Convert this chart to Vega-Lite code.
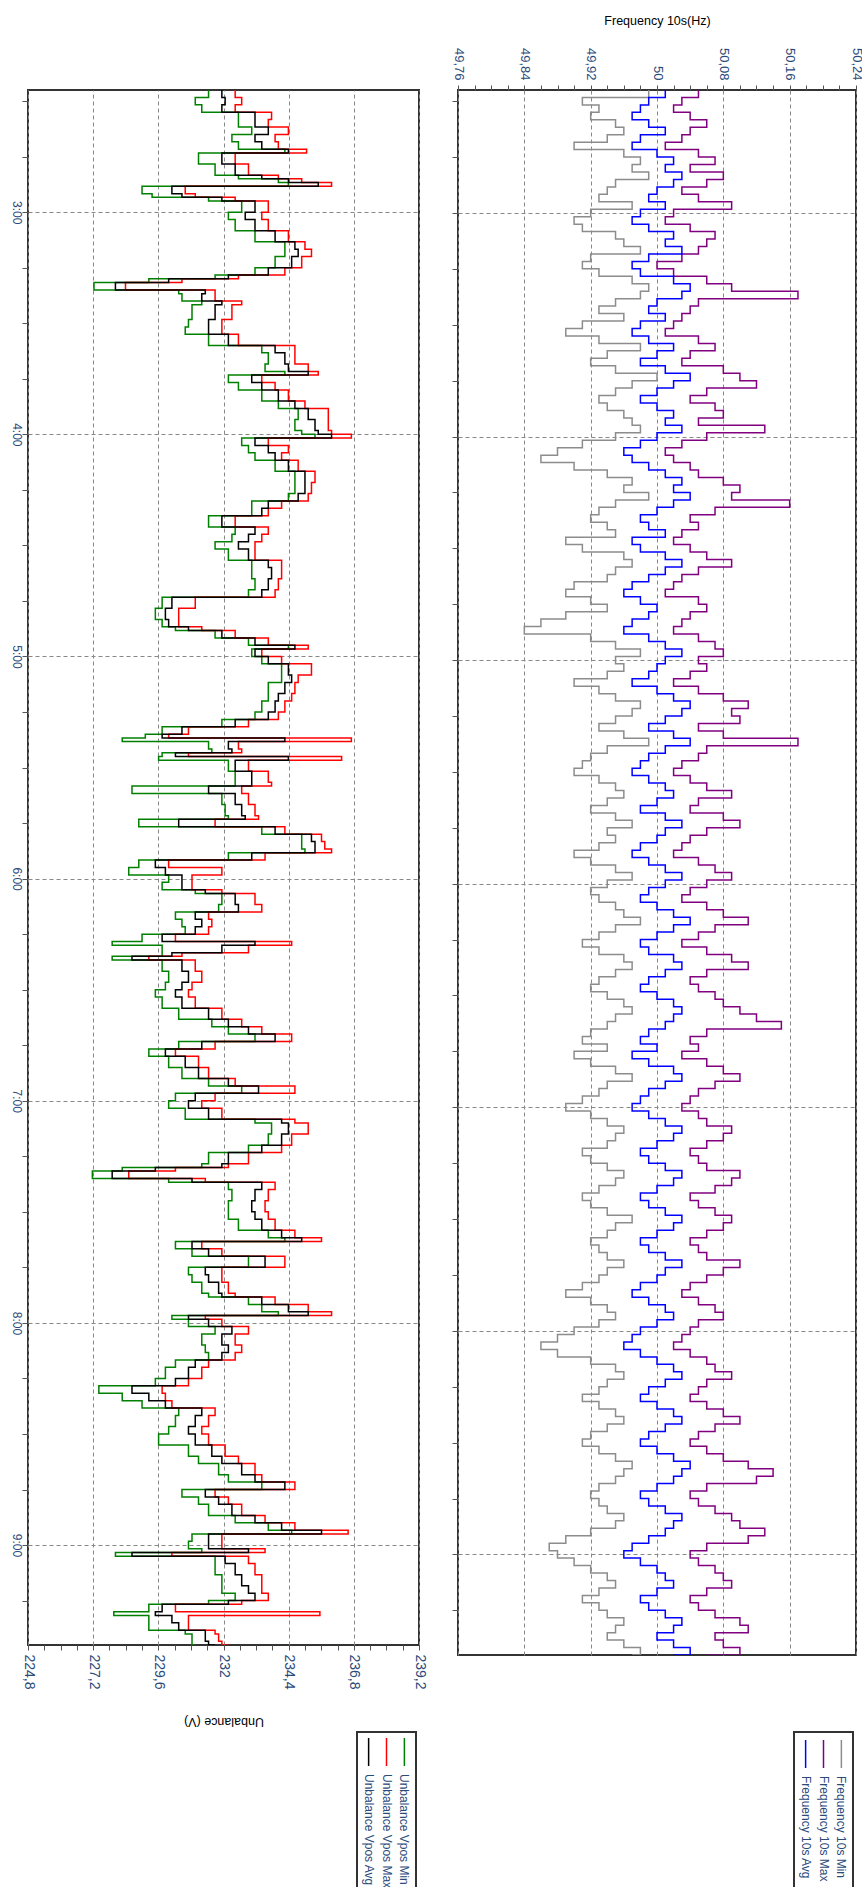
{
  "$schema": "https://vega.github.io/schema/vega-lite/v6.json",
  "padding": {"left": 8, "top": 13, "right": 2, "bottom": 0},
  "background": "white",
  "datasets": {
    "unb": [
      {"minute": 147, "min": 231.45, "max": 232.43, "avg": 231.94},
      {"minute": 149, "min": 230.96, "max": 232.67, "avg": 232.06},
      {"minute": 151, "min": 231.20, "max": 232.43, "avg": 231.94},
      {"minute": 153, "min": 232.55, "max": 233.77, "avg": 233.16},
      {"minute": 155, "min": 232.55, "max": 233.65, "avg": 233.16},
      {"minute": 157, "min": 233.04, "max": 234.39, "avg": 233.65},
      {"minute": 159, "min": 232.31, "max": 233.90, "avg": 233.16},
      {"minute": 161, "min": 232.55, "max": 234.02, "avg": 233.41},
      {"minute": 163, "min": 234.26, "max": 235.06, "avg": 234.39},
      {"minute": 164, "min": 231.08, "max": 232.43, "avg": 231.94},
      {"minute": 167, "min": 231.69, "max": 232.92, "avg": 232.43},
      {"minute": 170, "min": 232.55, "max": 234.02, "avg": 233.41},
      {"minute": 171, "min": 234.02, "max": 234.88, "avg": 234.39},
      {"minute": 172, "min": 234.39, "max": 235.98, "avg": 235.49},
      {"minute": 173, "min": 229.00, "max": 230.59, "avg": 230.10},
      {"minute": 175, "min": 229.37, "max": 230.96, "avg": 230.47},
      {"minute": 176, "min": 231.45, "max": 232.43, "avg": 231.94},
      {"minute": 177, "min": 232.67, "max": 233.65, "avg": 233.16},
      {"minute": 180, "min": 232.18, "max": 233.41, "avg": 232.80},
      {"minute": 182, "min": 232.43, "max": 233.65, "avg": 233.16},
      {"minute": 185, "min": 233.16, "max": 234.39, "avg": 233.90},
      {"minute": 188, "min": 234.26, "max": 235.00, "avg": 234.63},
      {"minute": 190, "min": 234.26, "max": 235.24, "avg": 234.75},
      {"minute": 192, "min": 233.90, "max": 234.88, "avg": 234.51},
      {"minute": 195, "min": 233.16, "max": 234.26, "avg": 233.65},
      {"minute": 197, "min": 231.69, "max": 232.55, "avg": 232.18},
      {"minute": 198, "min": 229.25, "max": 230.47, "avg": 229.98},
      {"minute": 199, "min": 227.23, "max": 228.39, "avg": 228.02},
      {"minute": 201, "min": 230.35, "max": 231.69, "avg": 231.33},
      {"minute": 202, "min": 230.47, "max": 231.69, "avg": 231.20},
      {"minute": 204, "min": 231.20, "max": 232.67, "avg": 231.94},
      {"minute": 205, "min": 230.84, "max": 232.31, "avg": 231.69},
      {"minute": 209, "min": 230.71, "max": 231.94, "avg": 231.45},
      {"minute": 211, "min": 230.59, "max": 231.94, "avg": 231.45},
      {"minute": 213, "min": 231.45, "max": 232.55, "avg": 232.18},
      {"minute": 216, "min": 233.41, "max": 234.63, "avg": 233.90},
      {"minute": 218, "min": 233.65, "max": 234.63, "avg": 234.26},
      {"minute": 221, "min": 233.53, "max": 235.12, "avg": 234.39},
      {"minute": 223, "min": 234.26, "max": 235.49, "avg": 235.12},
      {"minute": 224, "min": 232.18, "max": 233.41, "avg": 233.04},
      {"minute": 226, "min": 232.55, "max": 233.90, "avg": 233.41},
      {"minute": 228, "min": 233.41, "max": 234.39, "avg": 234.02},
      {"minute": 231, "min": 234.02, "max": 235.00, "avg": 234.63},
      {"minute": 233, "min": 234.75, "max": 235.86, "avg": 235.12},
      {"minute": 236, "min": 234.63, "max": 235.86, "avg": 235.37},
      {"minute": 239, "min": 234.88, "max": 235.98, "avg": 235.49},
      {"minute": 240, "min": 235.37, "max": 236.71, "avg": 235.98},
      {"minute": 241, "min": 232.67, "max": 233.65, "avg": 233.16},
      {"minute": 243, "min": 232.92, "max": 234.39, "avg": 233.65},
      {"minute": 245, "min": 233.16, "max": 234.14, "avg": 233.90},
      {"minute": 247, "min": 233.90, "max": 234.75, "avg": 234.39},
      {"minute": 250, "min": 234.63, "max": 235.37, "avg": 235.00},
      {"minute": 253, "min": 234.63, "max": 235.24, "avg": 235.00},
      {"minute": 256, "min": 234.39, "max": 235.12, "avg": 234.75},
      {"minute": 258, "min": 233.04, "max": 234.14, "avg": 233.65},
      {"minute": 260, "min": 233.04, "max": 233.65, "avg": 233.41},
      {"minute": 262, "min": 231.45, "max": 232.43, "avg": 231.94},
      {"minute": 265, "min": 232.43, "max": 233.65, "avg": 233.16},
      {"minute": 267, "min": 232.31, "max": 233.41, "avg": 232.92},
      {"minute": 269, "min": 231.69, "max": 233.16, "avg": 232.55},
      {"minute": 271, "min": 232.18, "max": 233.16, "avg": 232.92},
      {"minute": 274, "min": 233.04, "max": 234.14, "avg": 233.65},
      {"minute": 276, "min": 233.04, "max": 234.14, "avg": 233.77},
      {"minute": 279, "min": 233.16, "max": 234.02, "avg": 233.65},
      {"minute": 282, "min": 232.92, "max": 233.90, "avg": 233.41},
      {"minute": 284, "min": 229.74, "max": 230.96, "avg": 230.10},
      {"minute": 287, "min": 229.49, "max": 230.35, "avg": 229.86},
      {"minute": 290, "min": 229.74, "max": 230.35, "avg": 229.98},
      {"minute": 292, "min": 230.23, "max": 231.20, "avg": 230.71},
      {"minute": 293, "min": 231.69, "max": 232.43, "avg": 231.94},
      {"minute": 295, "min": 232.92, "max": 233.65, "avg": 233.16},
      {"minute": 297, "min": 234.39, "max": 235.12, "avg": 234.63},
      {"minute": 298, "min": 233.04, "max": 233.41, "avg": 233.16},
      {"minute": 300, "min": 233.41, "max": 234.14, "avg": 233.65},
      {"minute": 302, "min": 234.14, "max": 235.24, "avg": 234.39},
      {"minute": 305, "min": 234.14, "max": 234.75, "avg": 234.51},
      {"minute": 307, "min": 233.65, "max": 234.63, "avg": 234.26},
      {"minute": 310, "min": 233.65, "max": 234.51, "avg": 234.02},
      {"minute": 312, "min": 233.41, "max": 234.26, "avg": 233.90},
      {"minute": 315, "min": 233.16, "max": 234.02, "avg": 233.65},
      {"minute": 317, "min": 231.94, "max": 232.92, "avg": 232.43},
      {"minute": 319, "min": 229.74, "max": 230.71, "avg": 230.47},
      {"minute": 321, "min": 229.12, "max": 229.98, "avg": 229.74},
      {"minute": 322, "min": 228.27, "max": 236.71, "avg": 234.26},
      {"minute": 323, "min": 231.45, "max": 232.55, "avg": 232.18},
      {"minute": 325, "min": 231.57, "max": 232.67, "avg": 232.31},
      {"minute": 326, "min": 229.74, "max": 230.71, "avg": 230.23},
      {"minute": 327, "min": 229.61, "max": 236.35, "avg": 234.39},
      {"minute": 328, "min": 232.18, "max": 232.92, "avg": 232.43},
      {"minute": 331, "min": 232.43, "max": 233.65, "avg": 233.04},
      {"minute": 334, "min": 232.43, "max": 233.77, "avg": 233.04},
      {"minute": 335, "min": 228.63, "max": 232.67, "avg": 231.45},
      {"minute": 337, "min": 231.94, "max": 232.92, "avg": 232.43},
      {"minute": 340, "min": 232.06, "max": 233.16, "avg": 232.67},
      {"minute": 343, "min": 232.18, "max": 233.29, "avg": 232.80},
      {"minute": 344, "min": 228.88, "max": 231.69, "avg": 230.35},
      {"minute": 346, "min": 233.41, "max": 234.26, "avg": 233.90},
      {"minute": 348, "min": 234.88, "max": 235.61, "avg": 235.24},
      {"minute": 350, "min": 234.88, "max": 235.73, "avg": 235.37},
      {"minute": 352, "min": 235.00, "max": 235.98, "avg": 235.37},
      {"minute": 353, "min": 232.18, "max": 233.53, "avg": 233.04},
      {"minute": 355, "min": 228.88, "max": 229.98, "avg": 229.49},
      {"minute": 357, "min": 228.51, "max": 231.94, "avg": 229.86},
      {"minute": 359, "min": 229.98, "max": 230.84, "avg": 230.47},
      {"minute": 361, "min": 229.74, "max": 230.84, "avg": 230.47},
      {"minute": 363, "min": 230.96, "max": 231.94, "avg": 231.33},
      {"minute": 364, "min": 231.94, "max": 233.16, "avg": 232.43},
      {"minute": 367, "min": 231.82, "max": 233.41, "avg": 232.55},
      {"minute": 369, "min": 230.23, "max": 231.45, "avg": 230.96},
      {"minute": 371, "min": 230.47, "max": 231.57, "avg": 231.20},
      {"minute": 373, "min": 230.59, "max": 231.45, "avg": 230.96},
      {"minute": 375, "min": 229.00, "max": 230.23, "avg": 229.74},
      {"minute": 377, "min": 227.90, "max": 234.51, "avg": 233.16},
      {"minute": 378, "min": 229.74, "max": 232.92, "avg": 231.94},
      {"minute": 380, "min": 229.74, "max": 230.47, "avg": 230.10},
      {"minute": 381, "min": 227.90, "max": 229.25, "avg": 228.63},
      {"minute": 382, "min": 229.74, "max": 230.96, "avg": 230.47},
      {"minute": 385, "min": 229.98, "max": 231.20, "avg": 230.71},
      {"minute": 388, "min": 229.86, "max": 230.84, "avg": 230.47},
      {"minute": 390, "min": 229.49, "max": 230.71, "avg": 230.23},
      {"minute": 392, "min": 229.74, "max": 230.96, "avg": 230.47},
      {"minute": 395, "min": 230.35, "max": 231.94, "avg": 231.45},
      {"minute": 398, "min": 231.57, "max": 232.67, "avg": 232.18},
      {"minute": 400, "min": 232.18, "max": 233.41, "avg": 232.92},
      {"minute": 402, "min": 233.16, "max": 234.51, "avg": 233.90},
      {"minute": 404, "min": 230.35, "max": 231.69, "avg": 231.20},
      {"minute": 406, "min": 229.25, "max": 230.23, "avg": 229.86},
      {"minute": 408, "min": 229.98, "max": 231.08, "avg": 230.59},
      {"minute": 411, "min": 230.47, "max": 231.45, "avg": 231.08},
      {"minute": 414, "min": 231.45, "max": 232.43, "avg": 232.18},
      {"minute": 416, "min": 232.67, "max": 234.63, "avg": 233.29},
      {"minute": 418, "min": 230.23, "max": 231.69, "avg": 230.96},
      {"minute": 420, "min": 229.98, "max": 231.20, "avg": 230.71},
      {"minute": 422, "min": 230.59, "max": 231.94, "avg": 231.45},
      {"minute": 425, "min": 233.16, "max": 234.63, "avg": 234.14},
      {"minute": 426, "min": 233.77, "max": 235.12, "avg": 234.39},
      {"minute": 429, "min": 233.65, "max": 234.51, "avg": 234.14},
      {"minute": 432, "min": 232.92, "max": 234.14, "avg": 233.41},
      {"minute": 434, "min": 231.45, "max": 232.92, "avg": 232.18},
      {"minute": 437, "min": 231.20, "max": 232.18, "avg": 231.94},
      {"minute": 438, "min": 228.27, "max": 230.23, "avg": 229.49},
      {"minute": 439, "min": 227.17, "max": 228.51, "avg": 227.90},
      {"minute": 441, "min": 229.98, "max": 231.33, "avg": 230.84},
      {"minute": 442, "min": 232.18, "max": 233.90, "avg": 233.41},
      {"minute": 444, "min": 232.31, "max": 233.65, "avg": 233.16},
      {"minute": 447, "min": 232.18, "max": 233.53, "avg": 233.04},
      {"minute": 450, "min": 232.18, "max": 233.65, "avg": 233.16},
      {"minute": 452, "min": 232.55, "max": 233.90, "avg": 233.41},
      {"minute": 455, "min": 233.65, "max": 234.63, "avg": 234.14},
      {"minute": 457, "min": 234.26, "max": 235.61, "avg": 234.88},
      {"minute": 458, "min": 230.23, "max": 231.20, "avg": 230.84},
      {"minute": 460, "min": 230.84, "max": 231.94, "avg": 231.45},
      {"minute": 462, "min": 232.92, "max": 234.26, "avg": 233.53},
      {"minute": 465, "min": 230.71, "max": 231.94, "avg": 231.33},
      {"minute": 467, "min": 230.84, "max": 231.94, "avg": 231.45},
      {"minute": 469, "min": 231.20, "max": 232.18, "avg": 231.82},
      {"minute": 472, "min": 231.45, "max": 232.43, "avg": 231.94},
      {"minute": 473, "min": 232.92, "max": 233.90, "avg": 233.41},
      {"minute": 475, "min": 233.41, "max": 235.12, "avg": 234.39},
      {"minute": 477, "min": 234.02, "max": 235.98, "avg": 235.12},
      {"minute": 478, "min": 230.10, "max": 231.33, "avg": 230.71},
      {"minute": 479, "min": 230.71, "max": 231.94, "avg": 231.45},
      {"minute": 481, "min": 231.69, "max": 232.92, "avg": 232.31},
      {"minute": 483, "min": 231.20, "max": 232.43, "avg": 231.94},
      {"minute": 486, "min": 231.33, "max": 232.67, "avg": 232.18},
      {"minute": 488, "min": 231.45, "max": 232.43, "avg": 231.94},
      {"minute": 490, "min": 230.23, "max": 231.45, "avg": 230.96},
      {"minute": 492, "min": 229.86, "max": 231.20, "avg": 230.71},
      {"minute": 495, "min": 229.49, "max": 230.71, "avg": 230.23},
      {"minute": 497, "min": 227.41, "max": 229.74, "avg": 228.63},
      {"minute": 499, "min": 228.27, "max": 229.86, "avg": 229.25},
      {"minute": 501, "min": 229.00, "max": 230.10, "avg": 229.86},
      {"minute": 503, "min": 230.35, "max": 231.69, "avg": 231.20},
      {"minute": 505, "min": 230.23, "max": 231.45, "avg": 230.96},
      {"minute": 508, "min": 229.98, "max": 231.20, "avg": 230.71},
      {"minute": 510, "min": 229.61, "max": 231.45, "avg": 230.96},
      {"minute": 513, "min": 230.71, "max": 232.06, "avg": 231.57},
      {"minute": 516, "min": 231.08, "max": 232.55, "avg": 231.94},
      {"minute": 518, "min": 231.82, "max": 233.16, "avg": 232.67},
      {"minute": 521, "min": 232.18, "max": 233.41, "avg": 233.16},
      {"minute": 523, "min": 233.41, "max": 234.63, "avg": 234.26},
      {"minute": 525, "min": 230.47, "max": 231.69, "avg": 231.33},
      {"minute": 527, "min": 231.08, "max": 232.18, "avg": 231.82},
      {"minute": 529, "min": 231.45, "max": 232.67, "avg": 232.31},
      {"minute": 532, "min": 232.43, "max": 233.53, "avg": 233.16},
      {"minute": 534, "min": 233.65, "max": 234.63, "avg": 234.14},
      {"minute": 536, "min": 234.51, "max": 236.59, "avg": 235.61},
      {"minute": 537, "min": 230.84, "max": 231.94, "avg": 231.45},
      {"minute": 539, "min": 230.71, "max": 231.94, "avg": 231.45},
      {"minute": 541, "min": 231.20, "max": 233.53, "avg": 232.92},
      {"minute": 542, "min": 228.02, "max": 230.10, "avg": 228.63},
      {"minute": 543, "min": 231.69, "max": 232.92, "avg": 232.06},
      {"minute": 545, "min": 231.69, "max": 233.16, "avg": 232.43},
      {"minute": 548, "min": 231.94, "max": 233.41, "avg": 232.67},
      {"minute": 551, "min": 231.94, "max": 233.41, "avg": 232.92},
      {"minute": 553, "min": 232.43, "max": 233.65, "avg": 233.16},
      {"minute": 555, "min": 231.45, "max": 232.67, "avg": 232.18},
      {"minute": 556, "min": 229.25, "max": 230.23, "avg": 229.74},
      {"minute": 558, "min": 227.96, "max": 235.55, "avg": 229.49},
      {"minute": 559, "min": 229.25, "max": 230.71, "avg": 230.10},
      {"minute": 561, "min": 229.25, "max": 230.71, "avg": 230.35},
      {"minute": 563, "min": 230.59, "max": 231.69, "avg": 231.33},
      {"minute": 564, "min": 230.84, "max": 231.82, "avg": 231.33},
      {"minute": 566, "min": 230.84, "max": 231.94, "avg": 231.45},
      {"minute": 567, "min": 230.96, "max": 232.18, "avg": 231.69}
    ],
    "freq": [
      {"minute": 147, "min": 49.99, "max": 50.05, "avg": 50.01},
      {"minute": 149, "min": 49.91, "max": 50.03, "avg": 49.99},
      {"minute": 151, "min": 49.93, "max": 50.02, "avg": 49.98},
      {"minute": 153, "min": 49.92, "max": 50.04, "avg": 49.97},
      {"minute": 155, "min": 49.95, "max": 50.06, "avg": 49.99},
      {"minute": 157, "min": 49.96, "max": 50.04, "avg": 50.01},
      {"minute": 159, "min": 49.94, "max": 50.03, "avg": 49.98},
      {"minute": 161, "min": 49.90, "max": 50.01, "avg": 49.97},
      {"minute": 163, "min": 49.96, "max": 50.05, "avg": 50.00},
      {"minute": 165, "min": 49.98, "max": 50.07, "avg": 50.02},
      {"minute": 167, "min": 49.97, "max": 50.04, "avg": 50.01},
      {"minute": 169, "min": 49.99, "max": 50.08, "avg": 50.03},
      {"minute": 171, "min": 49.95, "max": 50.06, "avg": 50.02},
      {"minute": 173, "min": 49.94, "max": 50.03, "avg": 50.00},
      {"minute": 175, "min": 49.93, "max": 50.05, "avg": 49.99},
      {"minute": 177, "min": 49.97, "max": 50.09, "avg": 50.01},
      {"minute": 179, "min": 49.92, "max": 50.02, "avg": 49.98},
      {"minute": 181, "min": 49.90, "max": 50.01, "avg": 49.97},
      {"minute": 183, "min": 49.91, "max": 50.04, "avg": 49.99},
      {"minute": 185, "min": 49.95, "max": 50.07, "avg": 50.02},
      {"minute": 187, "min": 49.96, "max": 50.06, "avg": 50.01},
      {"minute": 189, "min": 49.98, "max": 50.05, "avg": 50.03},
      {"minute": 191, "min": 49.92, "max": 50.03, "avg": 49.99},
      {"minute": 193, "min": 49.91, "max": 50.00, "avg": 49.97},
      {"minute": 195, "min": 49.93, "max": 50.02, "avg": 49.98},
      {"minute": 197, "min": 49.97, "max": 50.06, "avg": 50.02},
      {"minute": 199, "min": 49.99, "max": 50.09, "avg": 50.04},
      {"minute": 201, "min": 49.98, "max": 50.17, "avg": 50.03},
      {"minute": 203, "min": 49.95, "max": 50.05, "avg": 50.00},
      {"minute": 205, "min": 49.93, "max": 50.04, "avg": 49.99},
      {"minute": 207, "min": 49.96, "max": 50.03, "avg": 50.01},
      {"minute": 209, "min": 49.91, "max": 50.02, "avg": 49.98},
      {"minute": 211, "min": 49.89, "max": 50.01, "avg": 49.97},
      {"minute": 213, "min": 49.93, "max": 50.05, "avg": 49.99},
      {"minute": 215, "min": 49.98, "max": 50.07, "avg": 50.02},
      {"minute": 217, "min": 49.94, "max": 50.04, "avg": 50.00},
      {"minute": 219, "min": 49.92, "max": 50.03, "avg": 49.98},
      {"minute": 221, "min": 49.95, "max": 50.08, "avg": 50.01},
      {"minute": 223, "min": 50.00, "max": 50.10, "avg": 50.04},
      {"minute": 225, "min": 49.97, "max": 50.12, "avg": 50.02},
      {"minute": 227, "min": 49.95, "max": 50.06, "avg": 50.00},
      {"minute": 229, "min": 49.93, "max": 50.04, "avg": 49.98},
      {"minute": 231, "min": 49.94, "max": 50.07, "avg": 50.00},
      {"minute": 233, "min": 49.96, "max": 50.08, "avg": 50.02},
      {"minute": 235, "min": 49.97, "max": 50.05, "avg": 50.01},
      {"minute": 237, "min": 49.98, "max": 50.13, "avg": 50.03},
      {"minute": 239, "min": 49.95, "max": 50.06, "avg": 50.00},
      {"minute": 241, "min": 49.91, "max": 50.03, "avg": 49.98},
      {"minute": 243, "min": 49.88, "max": 50.01, "avg": 49.96},
      {"minute": 245, "min": 49.86, "max": 50.02, "avg": 49.97},
      {"minute": 247, "min": 49.90, "max": 50.04, "avg": 49.99},
      {"minute": 249, "min": 49.94, "max": 50.05, "avg": 50.01},
      {"minute": 251, "min": 49.97, "max": 50.08, "avg": 50.03},
      {"minute": 253, "min": 49.96, "max": 50.10, "avg": 50.02},
      {"minute": 255, "min": 49.99, "max": 50.09, "avg": 50.04},
      {"minute": 257, "min": 49.95, "max": 50.16, "avg": 50.02},
      {"minute": 259, "min": 49.93, "max": 50.07, "avg": 50.00},
      {"minute": 261, "min": 49.92, "max": 50.04, "avg": 49.98},
      {"minute": 263, "min": 49.94, "max": 50.05, "avg": 49.99},
      {"minute": 265, "min": 49.95, "max": 50.03, "avg": 50.01},
      {"minute": 267, "min": 49.89, "max": 50.02, "avg": 49.97},
      {"minute": 269, "min": 49.91, "max": 50.04, "avg": 49.98},
      {"minute": 271, "min": 49.96, "max": 50.06, "avg": 50.01},
      {"minute": 273, "min": 49.97, "max": 50.09, "avg": 50.03},
      {"minute": 275, "min": 49.95, "max": 50.05, "avg": 50.01},
      {"minute": 277, "min": 49.94, "max": 50.03, "avg": 49.99},
      {"minute": 279, "min": 49.90, "max": 50.02, "avg": 49.97},
      {"minute": 281, "min": 49.89, "max": 50.01, "avg": 49.96},
      {"minute": 283, "min": 49.92, "max": 50.05, "avg": 49.98},
      {"minute": 285, "min": 49.94, "max": 50.06, "avg": 50.00},
      {"minute": 287, "min": 49.89, "max": 50.04, "avg": 49.99},
      {"minute": 289, "min": 49.86, "max": 50.03, "avg": 49.97},
      {"minute": 291, "min": 49.84, "max": 50.02, "avg": 49.96},
      {"minute": 293, "min": 49.92, "max": 50.05, "avg": 49.99},
      {"minute": 295, "min": 49.95, "max": 50.07, "avg": 50.01},
      {"minute": 297, "min": 49.98, "max": 50.08, "avg": 50.03},
      {"minute": 299, "min": 49.95, "max": 50.05, "avg": 50.01},
      {"minute": 301, "min": 49.96, "max": 50.06, "avg": 50.00},
      {"minute": 303, "min": 49.94, "max": 50.04, "avg": 49.99},
      {"minute": 305, "min": 49.90, "max": 50.02, "avg": 49.97},
      {"minute": 307, "min": 49.93, "max": 50.05, "avg": 50.00},
      {"minute": 309, "min": 49.95, "max": 50.08, "avg": 50.02},
      {"minute": 311, "min": 49.98, "max": 50.11, "avg": 50.04},
      {"minute": 313, "min": 49.97, "max": 50.09, "avg": 50.03},
      {"minute": 315, "min": 49.95, "max": 50.10, "avg": 50.01},
      {"minute": 317, "min": 49.93, "max": 50.05, "avg": 49.99},
      {"minute": 319, "min": 49.96, "max": 50.08, "avg": 50.02},
      {"minute": 321, "min": 49.99, "max": 50.17, "avg": 50.04},
      {"minute": 323, "min": 49.94, "max": 50.06, "avg": 50.01},
      {"minute": 325, "min": 49.92, "max": 50.05, "avg": 49.99},
      {"minute": 327, "min": 49.91, "max": 50.03, "avg": 49.98},
      {"minute": 329, "min": 49.90, "max": 50.02, "avg": 49.97},
      {"minute": 331, "min": 49.93, "max": 50.04, "avg": 49.99},
      {"minute": 333, "min": 49.95, "max": 50.06, "avg": 50.01},
      {"minute": 335, "min": 49.96, "max": 50.09, "avg": 50.02},
      {"minute": 337, "min": 49.94, "max": 50.05, "avg": 50.00},
      {"minute": 339, "min": 49.92, "max": 50.04, "avg": 49.98},
      {"minute": 341, "min": 49.95, "max": 50.08, "avg": 50.01},
      {"minute": 343, "min": 49.97, "max": 50.10, "avg": 50.03},
      {"minute": 345, "min": 49.94, "max": 50.06, "avg": 50.01},
      {"minute": 347, "min": 49.95, "max": 50.04, "avg": 50.00},
      {"minute": 349, "min": 49.93, "max": 50.03, "avg": 49.98},
      {"minute": 351, "min": 49.90, "max": 50.02, "avg": 49.97},
      {"minute": 353, "min": 49.92, "max": 50.05, "avg": 49.99},
      {"minute": 355, "min": 49.95, "max": 50.07, "avg": 50.01},
      {"minute": 357, "min": 49.97, "max": 50.09, "avg": 50.03},
      {"minute": 359, "min": 49.94, "max": 50.06, "avg": 50.01},
      {"minute": 361, "min": 49.92, "max": 50.04, "avg": 49.99},
      {"minute": 363, "min": 49.93, "max": 50.03, "avg": 49.98},
      {"minute": 365, "min": 49.95, "max": 50.06, "avg": 50.00},
      {"minute": 367, "min": 49.96, "max": 50.08, "avg": 50.02},
      {"minute": 369, "min": 49.98, "max": 50.11, "avg": 50.04},
      {"minute": 371, "min": 49.95, "max": 50.07, "avg": 50.02},
      {"minute": 373, "min": 49.93, "max": 50.05, "avg": 50.00},
      {"minute": 375, "min": 49.91, "max": 50.03, "avg": 49.98},
      {"minute": 377, "min": 49.93, "max": 50.06, "avg": 49.99},
      {"minute": 379, "min": 49.96, "max": 50.09, "avg": 50.02},
      {"minute": 381, "min": 49.97, "max": 50.11, "avg": 50.03},
      {"minute": 383, "min": 49.95, "max": 50.06, "avg": 50.01},
      {"minute": 385, "min": 49.93, "max": 50.04, "avg": 49.99},
      {"minute": 387, "min": 49.92, "max": 50.05, "avg": 49.98},
      {"minute": 389, "min": 49.94, "max": 50.07, "avg": 50.00},
      {"minute": 391, "min": 49.96, "max": 50.08, "avg": 50.02},
      {"minute": 393, "min": 49.97, "max": 50.10, "avg": 50.03},
      {"minute": 395, "min": 49.95, "max": 50.12, "avg": 50.02},
      {"minute": 397, "min": 49.94, "max": 50.15, "avg": 50.01},
      {"minute": 399, "min": 49.92, "max": 50.06, "avg": 49.99},
      {"minute": 401, "min": 49.91, "max": 50.04, "avg": 49.98},
      {"minute": 403, "min": 49.94, "max": 50.05, "avg": 50.00},
      {"minute": 405, "min": 49.90, "max": 50.03, "avg": 49.97},
      {"minute": 407, "min": 49.92, "max": 50.06, "avg": 49.99},
      {"minute": 409, "min": 49.95, "max": 50.08, "avg": 50.02},
      {"minute": 411, "min": 49.97, "max": 50.10, "avg": 50.03},
      {"minute": 413, "min": 49.94, "max": 50.07, "avg": 50.01},
      {"minute": 415, "min": 49.93, "max": 50.05, "avg": 49.99},
      {"minute": 417, "min": 49.91, "max": 50.04, "avg": 49.98},
      {"minute": 419, "min": 49.89, "max": 50.03, "avg": 49.97},
      {"minute": 421, "min": 49.92, "max": 50.05, "avg": 49.99},
      {"minute": 423, "min": 49.94, "max": 50.06, "avg": 50.01},
      {"minute": 425, "min": 49.96, "max": 50.09, "avg": 50.03},
      {"minute": 427, "min": 49.95, "max": 50.08, "avg": 50.02},
      {"minute": 429, "min": 49.94, "max": 50.06, "avg": 50.00},
      {"minute": 431, "min": 49.91, "max": 50.04, "avg": 49.98},
      {"minute": 433, "min": 49.92, "max": 50.05, "avg": 49.99},
      {"minute": 435, "min": 49.94, "max": 50.06, "avg": 50.01},
      {"minute": 437, "min": 49.96, "max": 50.10, "avg": 50.03},
      {"minute": 439, "min": 49.95, "max": 50.09, "avg": 50.02},
      {"minute": 441, "min": 49.93, "max": 50.07, "avg": 50.00},
      {"minute": 443, "min": 49.91, "max": 50.04, "avg": 49.98},
      {"minute": 445, "min": 49.92, "max": 50.05, "avg": 49.99},
      {"minute": 447, "min": 49.94, "max": 50.07, "avg": 50.01},
      {"minute": 449, "min": 49.97, "max": 50.09, "avg": 50.03},
      {"minute": 451, "min": 49.95, "max": 50.08, "avg": 50.02},
      {"minute": 453, "min": 49.94, "max": 50.06, "avg": 50.00},
      {"minute": 455, "min": 49.92, "max": 50.04, "avg": 49.98},
      {"minute": 457, "min": 49.93, "max": 50.05, "avg": 49.99},
      {"minute": 459, "min": 49.94, "max": 50.06, "avg": 50.01},
      {"minute": 461, "min": 49.96, "max": 50.10, "avg": 50.03},
      {"minute": 463, "min": 49.94, "max": 50.08, "avg": 50.01},
      {"minute": 465, "min": 49.93, "max": 50.06, "avg": 50.00},
      {"minute": 467, "min": 49.91, "max": 50.04, "avg": 49.98},
      {"minute": 469, "min": 49.89, "max": 50.03, "avg": 49.97},
      {"minute": 471, "min": 49.92, "max": 50.05, "avg": 49.99},
      {"minute": 473, "min": 49.94, "max": 50.07, "avg": 50.01},
      {"minute": 475, "min": 49.95, "max": 50.08, "avg": 50.02},
      {"minute": 477, "min": 49.93, "max": 50.05, "avg": 50.00},
      {"minute": 479, "min": 49.90, "max": 50.04, "avg": 49.98},
      {"minute": 481, "min": 49.88, "max": 50.03, "avg": 49.97},
      {"minute": 483, "min": 49.86, "max": 50.02, "avg": 49.96},
      {"minute": 485, "min": 49.88, "max": 50.04, "avg": 49.98},
      {"minute": 487, "min": 49.92, "max": 50.06, "avg": 50.00},
      {"minute": 489, "min": 49.95, "max": 50.07, "avg": 50.02},
      {"minute": 491, "min": 49.96, "max": 50.09, "avg": 50.03},
      {"minute": 493, "min": 49.94, "max": 50.06, "avg": 50.01},
      {"minute": 495, "min": 49.93, "max": 50.05, "avg": 49.99},
      {"minute": 497, "min": 49.91, "max": 50.04, "avg": 49.98},
      {"minute": 499, "min": 49.93, "max": 50.06, "avg": 50.00},
      {"minute": 501, "min": 49.95, "max": 50.08, "avg": 50.02},
      {"minute": 503, "min": 49.96, "max": 50.10, "avg": 50.03},
      {"minute": 505, "min": 49.94, "max": 50.07, "avg": 50.01},
      {"minute": 507, "min": 49.92, "max": 50.05, "avg": 49.99},
      {"minute": 509, "min": 49.91, "max": 50.04, "avg": 49.98},
      {"minute": 511, "min": 49.93, "max": 50.06, "avg": 50.00},
      {"minute": 513, "min": 49.95, "max": 50.08, "avg": 50.02},
      {"minute": 515, "min": 49.97, "max": 50.11, "avg": 50.04},
      {"minute": 517, "min": 49.96, "max": 50.14, "avg": 50.03},
      {"minute": 519, "min": 49.95, "max": 50.12, "avg": 50.02},
      {"minute": 521, "min": 49.93, "max": 50.06, "avg": 50.00},
      {"minute": 523, "min": 49.92, "max": 50.04, "avg": 49.98},
      {"minute": 525, "min": 49.93, "max": 50.05, "avg": 49.99},
      {"minute": 527, "min": 49.94, "max": 50.07, "avg": 50.01},
      {"minute": 529, "min": 49.96, "max": 50.09, "avg": 50.03},
      {"minute": 531, "min": 49.95, "max": 50.10, "avg": 50.02},
      {"minute": 533, "min": 49.92, "max": 50.13, "avg": 50.01},
      {"minute": 535, "min": 49.89, "max": 50.11, "avg": 49.99},
      {"minute": 537, "min": 49.87, "max": 50.06, "avg": 49.97},
      {"minute": 539, "min": 49.88, "max": 50.04, "avg": 49.96},
      {"minute": 541, "min": 49.90, "max": 50.05, "avg": 49.98},
      {"minute": 543, "min": 49.92, "max": 50.07, "avg": 50.00},
      {"minute": 545, "min": 49.94, "max": 50.08, "avg": 50.01},
      {"minute": 547, "min": 49.95, "max": 50.09, "avg": 50.02},
      {"minute": 549, "min": 49.93, "max": 50.06, "avg": 50.00},
      {"minute": 551, "min": 49.91, "max": 50.04, "avg": 49.98},
      {"minute": 553, "min": 49.93, "max": 50.05, "avg": 49.99},
      {"minute": 555, "min": 49.94, "max": 50.07, "avg": 50.01},
      {"minute": 557, "min": 49.96, "max": 50.10, "avg": 50.03},
      {"minute": 559, "min": 49.95, "max": 50.11, "avg": 50.02},
      {"minute": 561, "min": 49.94, "max": 50.07, "avg": 50.00},
      {"minute": 563, "min": 49.96, "max": 50.08, "avg": 50.02},
      {"minute": 565, "min": 49.98, "max": 50.10, "avg": 50.04},
      {"minute": 567, "min": 49.97, "max": 50.06, "avg": 50.02}
    ]
  },
  "vconcat": [
    {
      "hconcat": [
        {
          "width": 391,
          "height": 1555,
          "data": {"name": "unb"},
          "transform": [{"fold": ["min", "max", "avg"], "as": ["s", "v"]}],
          "mark": {"type": "line", "interpolate": "step-before", "strokeWidth": 1.5, "clip": true},
          "encoding": {
            "y": {
              "field": "minute",
              "type": "quantitative",
              "scale": {"domain": [147, 567], "nice": false, "zero": false, "reverse": true},
              "axis": {
                "title": null,
                "orient": "left",
                "values": [150, 165, 180, 195, 210, 225, 240, 255, 270, 285, 300, 315, 330, 345, 360, 375, 390, 405, 420, 435, 450, 465, 480, 495, 510, 525, 540, 555],
                "tickSize": 6,
                "labelPadding": 1,
                "labelAngle": 90,
                "labelAlign": "center",
                "labelBaseline": "top",
                "labelFontSize": 12,
                "labelExpr": "datum.value % 60 == 0 ? (datum.value / 60) + ':00' : ''",
                "grid": true,
                "gridOpacity": {"condition": {"test": "datum.value % 60 == 0", "value": 1}, "value": 0}
              }
            },
            "x": {
              "field": "v",
              "type": "quantitative",
              "scale": {"domain": [224.8, 239.2], "nice": false, "zero": false},
              "axis": {
                "orient": "bottom",
                "title": "Unbalance (V)",
                "titleAngle": 180,
                "titlePadding": 38,
                "values": [224.8, 225.4, 226, 226.6, 227.2, 227.8, 228.4, 229, 229.6, 230.2, 230.8, 231.4, 232, 232.6, 233.2, 233.8, 234.4, 235, 235.6, 236.2, 236.8, 237.4, 238, 238.6, 239.2],
                "tickSize": 5,
                "labelPadding": 4,
                "labelAngle": 90,
                "labelAlign": "left",
                "labelBaseline": "middle",
                "labelFontSize": 14,
                "labelExpr": "indexof([224.8, 227.2, 229.6, 232, 234.4, 236.8, 239.2], datum.value) >= 0 ? replace(format(datum.value, '~g'), '.', ',') : ''",
                "grid": true,
                "gridOpacity": {"condition": {"test": "indexof([224.8, 227.2, 229.6, 232, 234.4, 236.8, 239.2], datum.value) >= 0", "value": 1}, "value": 0}
              }
            },
            "color": {
              "field": "s",
              "type": "nominal",
              "scale": {"domain": ["min", "max", "avg"], "range": ["#008000", "#ff0000", "#000000"]},
              "legend": null
            },
            "order": {"field": "minute", "type": "quantitative"}
          }
        },
        {
          "width": 398,
          "height": 1565,
          "data": {"name": "freq"},
          "transform": [{"fold": ["min", "max", "avg"], "as": ["s", "v"]}],
          "mark": {"type": "line", "interpolate": "step-before", "strokeWidth": 1.5, "clip": true},
          "encoding": {
            "y": {
              "field": "minute",
              "type": "quantitative",
              "scale": {"domain": [147, 567], "nice": false, "zero": false, "reverse": true},
              "axis": {
                "title": null,
                "orient": "left",
                "values": [150, 165, 180, 195, 210, 225, 240, 255, 270, 285, 300, 315, 330, 345, 360, 375, 390, 405, 420, 435, 450, 465, 480, 495, 510, 525, 540, 555],
                "tickSize": 6,
                "labels": false,
                "grid": true,
                "gridOpacity": {"condition": {"test": "datum.value % 60 == 0", "value": 1}, "value": 0}
              }
            },
            "x": {
              "field": "v",
              "type": "quantitative",
              "scale": {"domain": [49.76, 50.24], "nice": false, "zero": false},
              "axis": {
                "orient": "top",
                "title": "Frequency 10s(Hz)",
                "titleAngle": 0,
                "titlePadding": 20,
                "values": [49.76, 49.78, 49.8, 49.82, 49.84, 49.86, 49.88, 49.9, 49.92, 49.94, 49.96, 49.98, 50, 50.02, 50.04, 50.06, 50.08, 50.1, 50.12, 50.14, 50.16, 50.18, 50.2, 50.22, 50.24],
                "tickSize": 5,
                "labelPadding": 5,
                "labelAngle": 90,
                "labelAlign": "right",
                "labelBaseline": "middle",
                "labelExpr": "indexof([49.76, 49.84, 49.92, 50, 50.08, 50.16, 50.24], datum.value) >= 0 ? replace(format(datum.value, '~g'), '.', ',') : ''",
                "grid": true,
                "gridOpacity": {"condition": {"test": "indexof([49.76, 49.84, 49.92, 50, 50.08, 50.16, 50.24], datum.value) >= 0", "value": 1}, "value": 0}
              }
            },
            "color": {
              "field": "s",
              "type": "nominal",
              "scale": {"domain": ["min", "max", "avg"], "range": ["#8c8c8c", "#800080", "#0000ff"]},
              "legend": null
            },
            "order": {"field": "minute", "type": "quantitative"}
          }
        }
      ],
      "spacing": 39,
      "bounds": "flush",
      "resolve": {"scale": {"x": "independent", "y": "independent", "color": "independent"}}
    },
    {
      "hconcat": [
        {
          "width": 329,
          "height": 1,
          "data": {"values": [{"s": "x"}]},
          "mark": {"type": "point", "opacity": 0},
          "view": {"stroke": null}
        },
        {
          "width": 59,
          "height": 190,
          "data": {"values": [{"s": "Unbalance Vpos Avg"}, {"s": "Unbalance Vpos Max"}, {"s": "Unbalance Vpos Min"}]},
          "encoding": {
            "x": {"field": "s", "type": "nominal", "sort": null, "scale": {"type": "point", "padding": 0.65}, "axis": null}
          },
          "layer": [
            {
              "mark": {"type": "rule", "y": 6, "y2": 34, "strokeWidth": 1.5},
              "encoding": {
                "color": {
                  "field": "s",
                  "type": "nominal",
                  "scale": {"domain": ["Unbalance Vpos Avg", "Unbalance Vpos Max", "Unbalance Vpos Min"], "range": ["#000000", "#ff0000", "#008000"]},
                  "legend": null
                }
              }
            },
            {
              "mark": {"type": "text", "angle": 90, "align": "left", "baseline": "middle", "y": 42, "font": "Liberation Sans", "fontSize": 12, "color": "#2a4a7a"},
              "encoding": {"text": {"field": "s"}}
            }
          ]
        },
        {
          "width": 378,
          "height": 1,
          "data": {"values": [{"s": "x"}]},
          "mark": {"type": "point", "opacity": 0},
          "view": {"stroke": null}
        },
        {
          "width": 59,
          "height": 190,
          "data": {"values": [{"s": "Frequency 10s Avg"}, {"s": "Frequency 10s Max"}, {"s": "Frequency 10s Min"}]},
          "encoding": {
            "x": {"field": "s", "type": "nominal", "sort": null, "scale": {"type": "point", "padding": 0.65}, "axis": null}
          },
          "layer": [
            {
              "mark": {"type": "rule", "y": 8, "y2": 36, "strokeWidth": 1.5},
              "encoding": {
                "color": {
                  "field": "s",
                  "type": "nominal",
                  "scale": {"domain": ["Frequency 10s Avg", "Frequency 10s Max", "Frequency 10s Min"], "range": ["#0000ff", "#800080", "#8c8c8c"]},
                  "legend": null
                }
              }
            },
            {
              "mark": {"type": "text", "angle": 90, "align": "left", "baseline": "middle", "y": 44, "font": "Liberation Sans", "fontSize": 12, "color": "#2a4a7a"},
              "encoding": {"text": {"field": "s"}}
            }
          ]
        }
      ],
      "spacing": 0,
      "bounds": "flush",
      "resolve": {"scale": {"x": "independent", "color": "independent"}}
    }
  ],
  "spacing": 0,
  "bounds": "full",
  "resolve": {"scale": {"x": "independent", "y": "independent", "color": "independent"}},
  "config": {
    "view": {"stroke": "#333333", "strokeWidth": 2},
    "axis": {
      "labelFont": "Liberation Sans",
      "labelFontSize": 13,
      "labelColor": "#2a4a7a",
      "labelOverlap": false,
      "labelFlush": false,
      "labelBound": false,
      "tickColor": "#555555",
      "tickWidth": 1,
      "domain": false,
      "gridColor": "#888888",
      "gridDash": [4, 3],
      "gridWidth": 1,
      "titleFont": "Liberation Sans",
      "titleFontWeight": "normal",
      "titleFontSize": 12.5,
      "titleColor": "#000000"
    }
  }
}
